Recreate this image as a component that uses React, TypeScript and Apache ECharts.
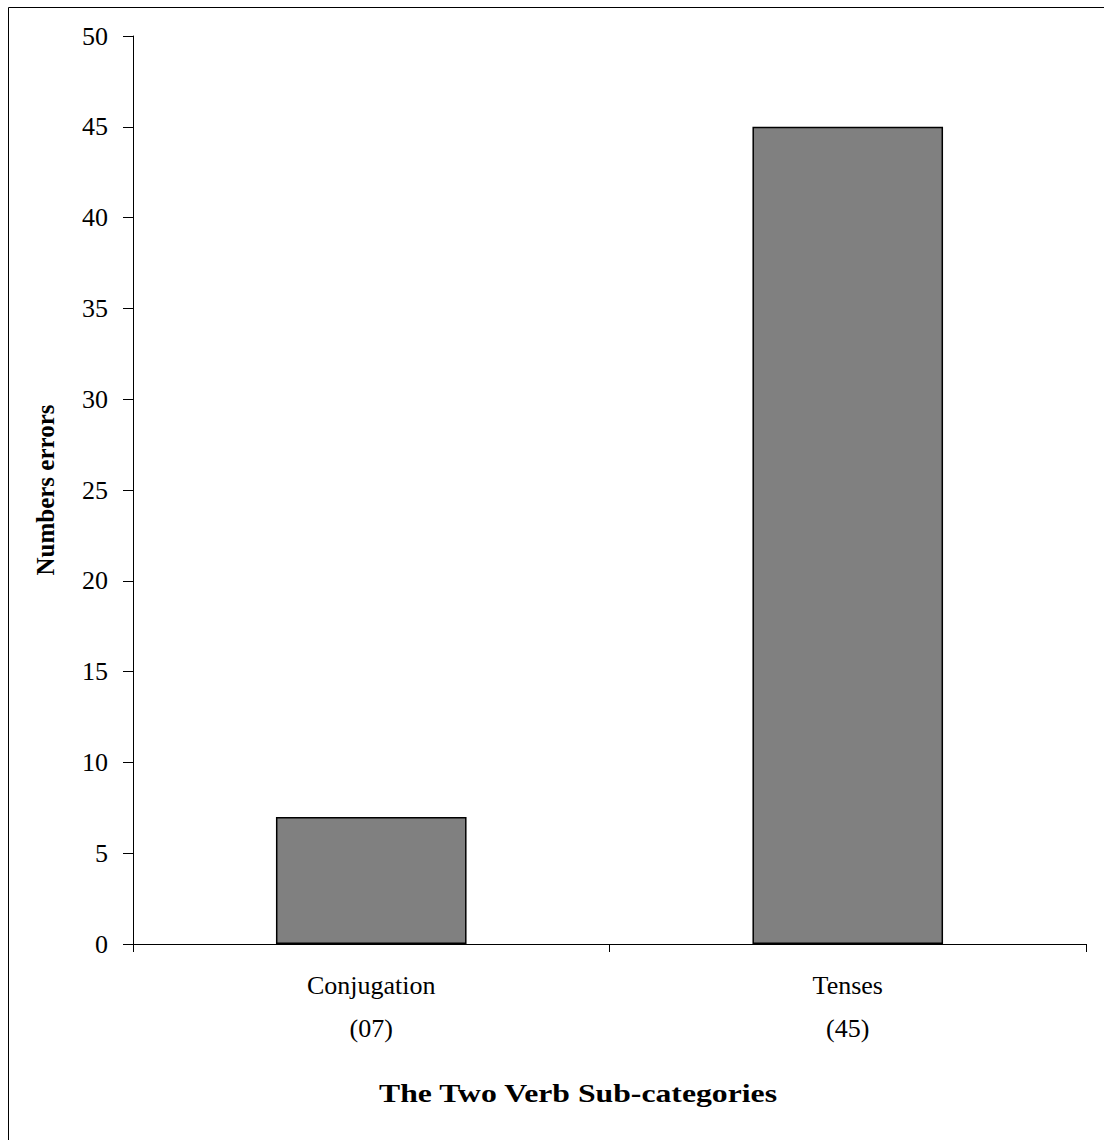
import React, { useEffect, useRef } from "react";
import * as echarts from "echarts";

const categories = ["Conjugation\n(07)", "Tenses\n(45)"];
const values = [7, 45];
const yTicks = { min: 0, max: 50, interval: 5 };
const yName = "Numbers errors";
const xTitle = "The Two Verb Sub-categories";

const FONT = "'Liberation Serif', 'Times New Roman', serif";

export default function App() {
  const ref = useRef<HTMLDivElement>(null);
  useEffect(() => {
    const chart = echarts.init(ref.current!, null, { renderer: "svg" });
    chart.setOption({
      animation: false,
      backgroundColor: "#ffffff",
      grid: { left: 133, right: 18, top: 36, bottom: 196, containLabel: false },
      xAxis: {
        type: "category",
        data: categories,
        boundaryGap: true,
        axisLine: { show: true, lineStyle: { color: "#000", width: 1 } },
        axisTick: { show: true, inside: false, length: 8, lineStyle: { color: "#000" }, alignWithLabel: false },
        axisLabel: {
          color: "#000",
          fontFamily: FONT,
          fontSize: 26,
          lineHeight: 43,
          margin: 20,
          interval: 0,
        },
        splitLine: { show: false },
      },
      yAxis: {
        type: "value",
        min: yTicks.min,
        max: yTicks.max,
        interval: yTicks.interval,
        name: yName,
        nameLocation: "middle",
        nameRotate: 90,
        nameGap: 75,
        nameTextStyle: { color: "#000", fontFamily: FONT, fontSize: 25, fontWeight: "bold" },
        axisLine: { show: true, lineStyle: { color: "#000", width: 1 } },
        axisTick: { show: true, inside: false, length: 10, lineStyle: { color: "#000" } },
        axisLabel: { color: "#000", fontFamily: FONT, fontSize: 26, margin: 25 },
        splitLine: { show: false },
      },
      graphic: [
        {
          type: "rect",
          shape: { x: 8.5, y: 7.5, width: 1200, height: 1200 },
          style: { fill: "none", stroke: "#000", lineWidth: 1 },
          silent: true,
        },
        {
          type: "text",
          x: 578,
          y: 1093,
          scaleX: 1.22,
          style: {
            text: xTitle,
            fill: "#000",
            font: `bold 26px ${FONT}`,
            textAlign: "center",
            textVerticalAlign: "middle",
          },
        },
      ],
      series: [
        {
          type: "bar",
          data: values,
          barWidth: "40%",
          itemStyle: { color: "#808080", borderColor: "#000", borderWidth: 1.5 },
        },
      ],
    });
    return () => chart.dispose();
  }, []);
  return (
    <div
      ref={ref}
      style={{ position: "absolute", left: 0, top: 0, width: 1104, height: 1140 }}
    />
  );
}
